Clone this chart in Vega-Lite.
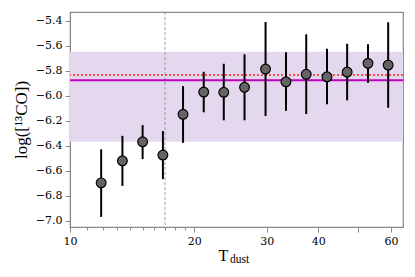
{
  "$schema": "https://vega.github.io/schema/vega-lite/v6.json",
  "width": 333,
  "height": 215,
  "autosize": "none",
  "padding": {"left": 70, "top": 12, "right": 12, "bottom": 50},
  "background": "white",
  "config": {"view": {"stroke": "#888888", "strokeWidth": 1.2}},
  "title": {"text": "dust", "orient": "bottom", "anchor": "middle", "frame": "group", "font": "Liberation Serif", "fontSize": 11.5, "fontWeight": "normal", "dx": 3, "offset": -9, "color": "black"},
  "datasets": {
    "pts": [
      {"T": 11.9, "v": -6.698, "lo": -6.970, "hi": -6.430},
      {"T": 13.4, "v": -6.522, "lo": -6.722, "hi": -6.322},
      {"T": 15.0, "v": -6.370, "lo": -6.508, "hi": -6.236},
      {"T": 16.8, "v": -6.476, "lo": -6.668, "hi": -6.284},
      {"T": 18.8, "v": -6.150, "lo": -6.378, "hi": -5.924},
      {"T": 21.1, "v": -5.972, "lo": -6.134, "hi": -5.810},
      {"T": 23.6, "v": -5.974, "lo": -6.198, "hi": -5.746},
      {"T": 26.5, "v": -5.934, "lo": -6.198, "hi": -5.670},
      {"T": 29.8, "v": -5.788, "lo": -6.164, "hi": -5.412},
      {"T": 33.4, "v": -5.890, "lo": -6.122, "hi": -5.654},
      {"T": 37.4, "v": -5.830, "lo": -6.148, "hi": -5.510},
      {"T": 42.0, "v": -5.850, "lo": -6.070, "hi": -5.626},
      {"T": 47.0, "v": -5.812, "lo": -6.038, "hi": -5.586},
      {"T": 52.8, "v": -5.742, "lo": -5.898, "hi": -5.590},
      {"T": 59.1, "v": -5.756, "lo": -6.098, "hi": -5.414}
    ],
    "band": [{"lo": -6.37, "hi": -5.65}],
    "hlines": [{"y": -5.878, "kind": "mean"}, {"y": -5.836, "kind": "median"}],
    "vline": [{"T": 17.0}]
  },
  "layer": [
    {
      "data": {"name": "band"},
      "mark": {"type": "rect", "color": "#e4d8ee"},
      "encoding": {
        "y": {"field": "lo", "type": "quantitative", "scale": {"domain": [-7.051, -5.332], "nice": false, "zero": false},
          "axis": {"values": [-7.0, -6.8, -6.6, -6.4, -6.2, -6.0, -5.8, -5.6, -5.4], "tickCount": 9, "format": ".1f", "grid": false, "labelOverlap": false,
            "labelFont": "DejaVu Serif", "labelFontSize": 11, "labelColor": "black", "labelPadding": 3,
            "tickSize": 5, "tickColor": "#888888", "domainColor": "#888888",
            "title": "log([¹³CO])", "titleFont": "Liberation Serif", "titleFontSize": 17, "titleFontWeight": "normal", "titleColor": "black", "titlePadding": 5}},
        "y2": {"field": "hi"}
      }
    },
    {
      "data": {"name": "vline"},
      "mark": {"type": "rule", "color": "#888888", "strokeWidth": 0.8, "strokeDash": [3, 2]},
      "encoding": {
        "x": {"field": "T", "type": "quantitative", "scale": {"type": "log", "domain": [10, 64.2], "nice": false},
          "axis": {"values": [10, 11, 12, 13, 14, 15, 16, 17, 18, 19, 20, 30, 40, 50, 60],
            "labelExpr": "indexof([10,20,30,40,60], datum.value) >= 0 ? datum.value : ''", "labelOverlap": false,
            "tickSize": {"condition": {"test": "indexof([10,20,30,40,60,50], datum.value) >= 0", "value": 5}, "value": 3},
            "grid": false, "labelFont": "DejaVu Serif", "labelFontSize": 11, "labelColor": "black", "labelFlush": false, "labelPadding": 3,
            "tickColor": "#888888", "domainColor": "#888888",
            "title": "T", "titleFont": "Liberation Serif", "titleFontSize": 16, "titleFontWeight": "normal", "titleColor": "black",
            "titleX": 153, "titleY": 33, "titleBaseline": "alphabetic"}}
      }
    },
    {
      "data": {"name": "hlines"},
      "transform": [{"filter": "datum.kind == 'mean'"}],
      "mark": {"type": "rule", "color": "#c000c0", "strokeWidth": 2},
      "encoding": {"y": {"field": "y", "type": "quantitative"}}
    },
    {
      "data": {"name": "hlines"},
      "transform": [{"filter": "datum.kind == 'median'"}],
      "mark": {"type": "rule", "color": "#ff2020", "strokeWidth": 1.6, "strokeDash": [2, 2]},
      "encoding": {"y": {"field": "y", "type": "quantitative"}}
    },
    {
      "data": {"name": "pts"},
      "mark": {"type": "rule", "color": "black", "strokeWidth": 2},
      "encoding": {
        "x": {"field": "T", "type": "quantitative"},
        "y": {"field": "lo", "type": "quantitative"},
        "y2": {"field": "hi"}
      }
    },
    {
      "data": {"name": "pts"},
      "mark": {"type": "point", "shape": "circle", "filled": true, "fill": "#646464", "stroke": "black", "strokeWidth": 1.2, "size": 95, "opacity": 1},
      "encoding": {
        "x": {"field": "T", "type": "quantitative"},
        "y": {"field": "v", "type": "quantitative"}
      }
    }
  ]
}
